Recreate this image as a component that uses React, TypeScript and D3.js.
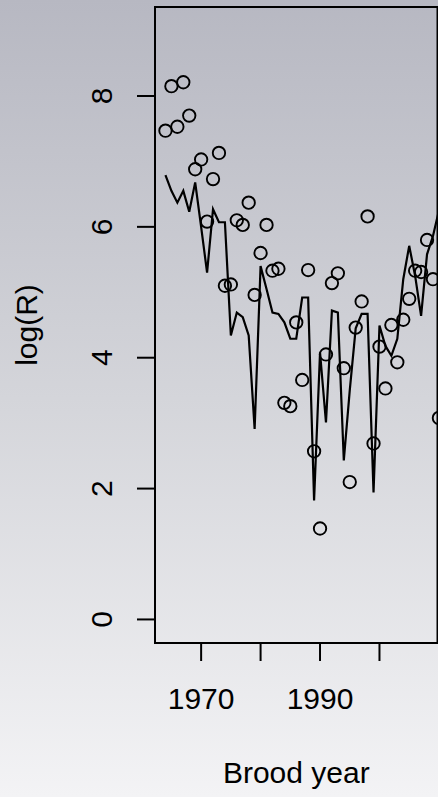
import React from 'react';
import * as d3 from 'd3';

const years = [1964, 1965, 1966, 1967, 1968, 1969, 1970, 1971, 1972, 1973, 1974, 1975, 1976, 1977, 1978, 1979,
  1980, 1981, 1982, 1983, 1984, 1985, 1986, 1987, 1988, 1989, 1990, 1991, 1992, 1993, 1994, 1995, 1996, 1997,
  1998, 1999, 2000, 2001, 2002, 2003, 2004, 2005, 2006, 2007, 2008, 2009, 2010];

const observedLogR = [7.47, 8.15, 7.53, 8.21, 7.70, 6.88, 7.03, 6.08, 6.73, 7.13, 5.10, 5.12, 6.10, 6.03, 6.37, 4.96,
  5.60, 6.03, 5.33, 5.36, 3.31, 3.26, 4.54, 3.66, 5.34, 2.57, 1.39, 4.05, 5.14, 5.29, 3.84, 2.10, 4.46, 4.86,
  6.16, 2.69, 4.17, 3.53, 4.50, 3.93, 4.58, 4.90, 5.33, 5.31, 5.80, 5.20, 3.08];

const fittedLogR = [6.79, 6.55, 6.37, 6.55, 6.23, 6.68, 6.00, 5.30, 6.27, 6.07, 6.07, 4.34, 4.69, 4.62, 4.34, 2.91,
  5.40, 5.05, 4.69, 4.67, 4.54, 4.29, 4.29, 4.92, 4.92, 1.82, 4.08, 3.01, 4.72, 4.69, 2.43, 3.50, 4.45, 4.67,
  4.67, 1.94, 4.49, 4.18, 4.03, 4.29, 5.20, 5.71, 5.25, 4.64, 5.58, 5.86, 6.25];

const xLimits = [1964, 2008];
const yLimits = [0, 9];
const yTicks = [0, 2, 4, 6, 8];
const xTicks = [1970, 1980, 1990, 2000];
const xTickLabels = ['1970', '', '1990', ''];

const FONT = '"Liberation Sans", Arial, Helvetica, sans-serif';

export default function App() {
  const W = 438;
  const H = 797;
  const left = 155;
  const right = 437.5;
  const top = 7;
  const bottom = 643;

  const xPad = (xLimits[1] - xLimits[0]) * 0.04;
  const yPad = (yLimits[1] - yLimits[0]) * 0.04;
  const x = d3.scaleLinear().domain([xLimits[0] - xPad, xLimits[1] + xPad]).range([left, right]);
  const y = d3.scaleLinear().domain([yLimits[0] - yPad, yLimits[1] + yPad]).range([bottom, top]);

  const linePath = d3.line<number>()
    .x((_, i) => x(years[i]))
    .y((d) => y(d))(fittedLogR) || '';

  const tickLen = 18;

  return (
    <div style={{ position: 'absolute', left: 0, top: 0, width: W, height: H }}>
      <svg width={W} height={H} style={{ display: 'block' }}>
        <defs>
          <linearGradient id="bg" x1="0" y1="0" x2="0" y2="1">
            <stop offset="0" stopColor="#b7b8c2" />
            <stop offset="0.5" stopColor="#d4d5da" />
            <stop offset="1" stopColor="#f3f3f5" />
          </linearGradient>
          <clipPath id="plotClip">
            <rect x={left} y={top} width={right - left} height={bottom - top} />
          </clipPath>
        </defs>
        <rect x={0} y={0} width={W} height={H} fill="url(#bg)" />

        <g clipPath="url(#plotClip)">
          <path d={linePath} fill="none" stroke="#000" strokeWidth={2.2} strokeLinejoin="miter" />
          {observedLogR.map((v, i) => (
            <circle key={i} cx={x(years[i])} cy={y(v)} r={6.2} fill="none" stroke="#000" strokeWidth={1.9} />
          ))}
        </g>

        <rect x={left} y={top} width={right - left} height={bottom - top} fill="none" stroke="#000" strokeWidth={2} />

        {yTicks.map((t) => (
          <g key={t}>
            <line x1={left - tickLen} x2={left} y1={y(t)} y2={y(t)} stroke="#000" strokeWidth={2} />
            <text
              transform={`translate(111.5,${y(t)}) rotate(-90)`}
              textAnchor="middle"
              fontFamily={FONT}
              fontSize={30}
              fill="#000"
            >
              {t}
            </text>
          </g>
        ))}

        {xTicks.map((t, i) => (
          <g key={t}>
            <line x1={x(t)} x2={x(t)} y1={bottom} y2={bottom + tickLen} stroke="#000" strokeWidth={2} />
            {xTickLabels[i] ? (
              <text x={x(t)} y={709} textAnchor="middle" fontFamily={FONT} fontSize={30} fill="#000">
                {xTickLabels[i]}
              </text>
            ) : null}
          </g>
        ))}

        <text x={(left + right) / 2} y={783} textAnchor="middle" fontFamily={FONT} fontSize={30} fill="#000">
          Brood year
        </text>
        <text
          transform={`translate(37,${(top + bottom) / 2}) rotate(-90)`}
          textAnchor="middle"
          fontFamily={FONT}
          fontSize={30}
          fill="#000"
        >
          log(R)
        </text>
      </svg>
    </div>
  );
}
